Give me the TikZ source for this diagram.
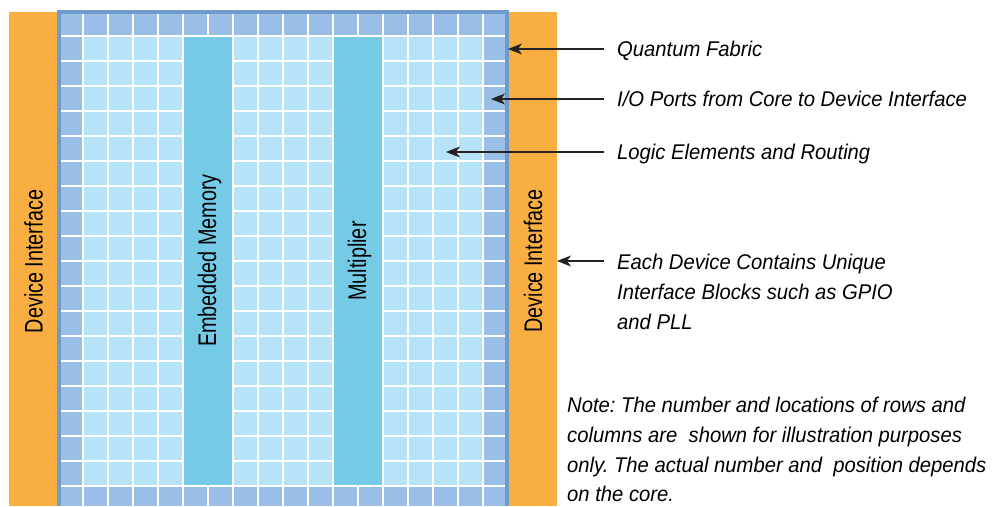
\documentclass[tikz,border=0pt]{standalone}
\usepackage{fontspec}
\setmainfont{Liberation Sans}
\newfontfamily\narrowsans{Liberation Sans}[FakeStretch=0.78]
\newfontfamily\labelsans{Liberation Sans}[FakeStretch=0.95]
\usetikzlibrary{arrows.meta}
\definecolor{orangeDI}{RGB}{249,174,66}
\definecolor{frameblue}{RGB}{111,154,203}
\definecolor{darkcell}{RGB}{153,191,230}
\definecolor{lightcell}{RGB}{182,227,247}
\definecolor{blockblue}{RGB}{117,202,230}
\definecolor{arrowgray}{RGB}{35,35,35}
\tikzset{
  gridline/.style={white, line width=1.3pt},
  blockfill/.style={fill=blockblue},
  vlabel/.style={rotate=90, anchor=base, inner sep=0pt, font=\narrowsans\fontsize{25.4}{30}\selectfont, text=black},
  rlabel/.style={anchor=base west, inner xsep=13pt, inner ysep=0pt, font=\labelsans\fontsize{21.3}{24}\selectfont\itshape\frenchspacing, text=black},
  notelabel/.style={anchor=base west, inner sep=0pt, font=\labelsans\fontsize{21.3}{24}\selectfont\itshape\frenchspacing, text=black},
  arr/.style={-{Stealth[length=14pt,width=11pt,inset=4pt]}, line width=1.1pt, draw=arrowgray}
}
\begin{document}
\begin{tikzpicture}[x=1pt,y=-1pt]
\useasboundingbox (0,0) rectangle (992,506);
% device interface columns
\fill[orangeDI] (9,12) rectangle (57,506);
\fill[orangeDI] (509,12) rectangle (557,506);
% fabric frame and cells
\fill[frameblue] (57,10) rectangle (509,506);
\fill[darkcell] (61,14) rectangle (505,506);
\fill[lightcell] (83,36) rectangle (483,486);
\foreach \i in {0,...,16} \draw[gridline] (83+25*\i,14) -- (83+25*\i,506);
\foreach \j in {0,...,18} \draw[gridline] (61,36+25*\j) -- (505,36+25*\j);
% embedded memory and multiplier
\fill[blockfill] (183.7,36.7) rectangle (232.3,485.3);
\fill[blockfill] (333.7,36.7) rectangle (382.3,485.3);
% vertical labels
\node[vlabel] (diL) at (42.5,261.5) {Device Interface};
\node[vlabel] (mem) at (216,260.5) {Embedded Memory};
\node[vlabel] (mult) at (366,261) {Multiplier};
\node[vlabel] (diR) at (542,261) {Device Interface};
% right-hand labels
\node[rlabel] (qf) at (604,56) {Quantum Fabric};
\node[rlabel] (io) at (604,106) {I/O Ports from Core to Device Interface};
\node[rlabel] (le) at (604,159) {Logic Elements and Routing};
\node[rlabel] (ed1) at (604,269) {Each Device Contains Unique};
\node[rlabel] (ed2) at (604,299.5) {Interface Blocks such as GPIO};
\node[rlabel] (ed3) at (604,329) {and PLL};
% arrow tips
\coordinate (tqf) at (508,49);
\coordinate (tio) at (491,99);
\coordinate (tle) at (446,152);
\coordinate (ted) at (557,261);
\draw[arr] (tqf -| qf.west) -- (tqf);
\draw[arr] (tio -| io.west) -- (tio);
\draw[arr] (tle -| le.west) -- (tle);
\draw[arr] (ted -| ed1.west) -- (ted);
% note
\node[notelabel] (n1) at (567,412) {Note: The number and locations of rows and};
\node[notelabel] (n2) at (567,442) {columns are\ \ shown for illustration purposes};
\node[notelabel] (n3) at (567,472) {only. The actual number and\ \ position depends};
\node[notelabel] (n4) at (567,501) {on the core.};
\end{tikzpicture}
\end{document}
